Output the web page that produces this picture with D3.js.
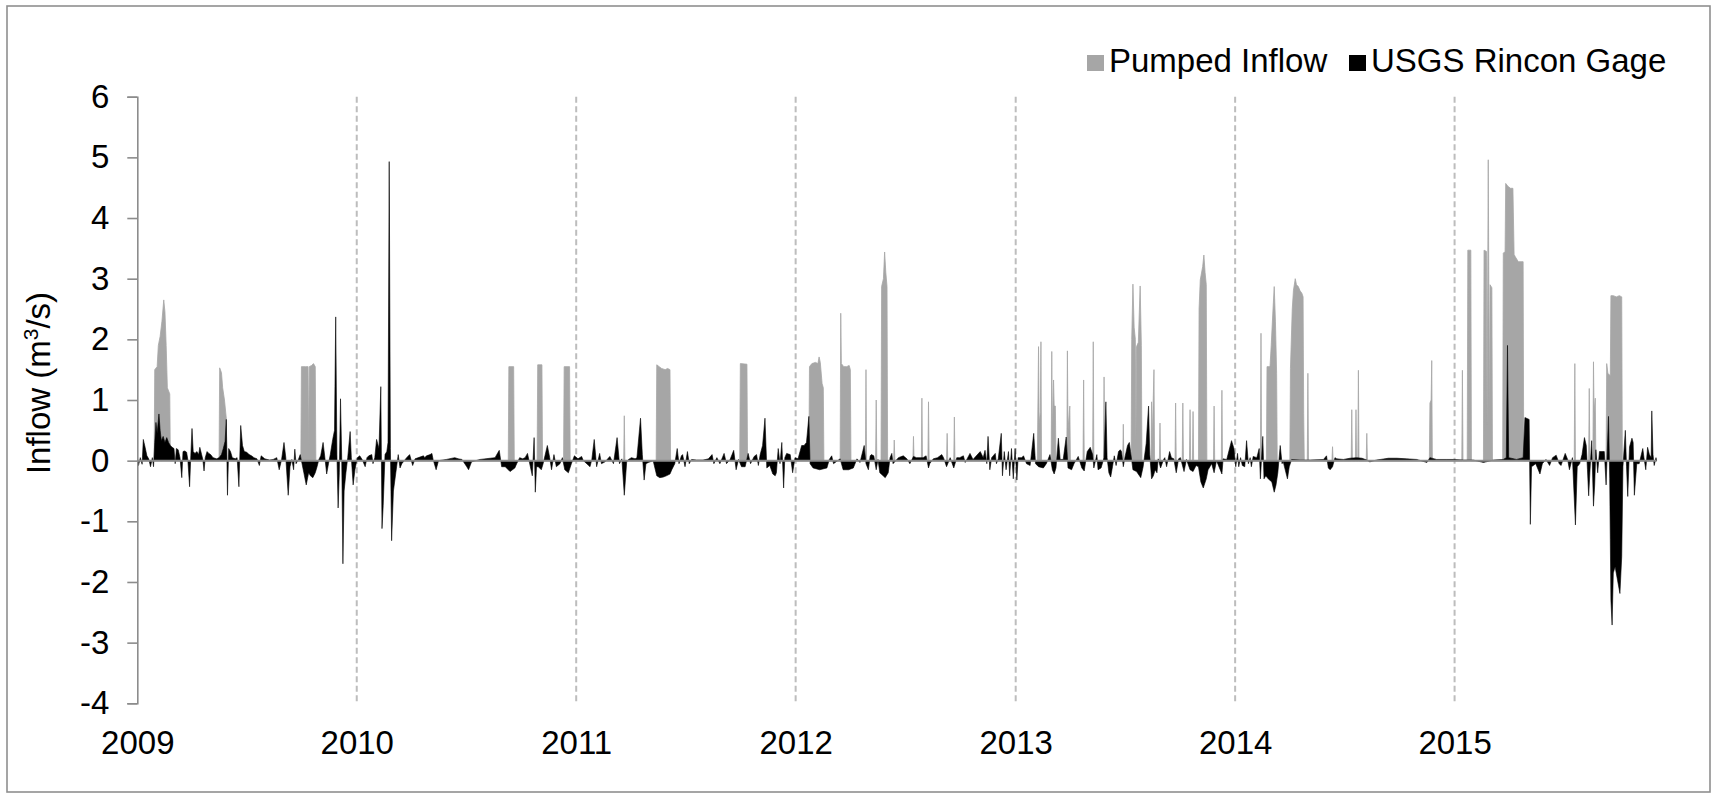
<!DOCTYPE html>
<html>
<head>
<meta charset="utf-8">
<script src="https://cdn.jsdelivr.net/npm/d3@7"></script>
<style>
  html, body { margin: 0; padding: 0; background: #fff; }
  svg { display: block; font-family: "Liberation Sans", Arial, Helvetica, sans-serif; }
</style>
</head>
<body>
<svg id="chart" width="1716" height="798"></svg>
<script>
// Daily inflow records, keyed by day number counted from 1 Jan 2009: [day, m3/s]
const START_DATE = Date.UTC(2009, 0, 1);

// USGS Rincon gage (can be negative)
const gageFlow = [
  [0,0],[2,-0.08],[5,0.05],[8,-0.06],[10,0.35],[13,0.22],[16,0.08],[19,0.03],[22,-0.1],[25,0.05],[27,-0.1],
  [29,0.3],[31,0.63],[33,0.45],[36,0.77],[38,0.5],[40,0.33],[43,0.4],[46,0.3],[49,0.38],[52,0.3],[55,0.25],
  [58,0.22],[61,0.2],[63,-0.05],[65,0.2],[68,0.18],[71,0.05],[74,-0.28],[76,0.15],[79,0.16],[82,0.14],[84,0.02],
  [87,-0.43],[89,0.08],[91,0.53],[93,0.15],[96,0.12],[99,0.15],[102,0.1],[104,0.22],[107,0.1],[109,0.02],
  [111,-0.17],[113,0.05],[116,0.15],[119,0.12],[122,0.1],[126,0.05],[132,0.03],[136,0.05],[140,0.1],[143,0.2],
  [146,0.32],[148,0.68],[150,-0.57],[152,0.2],[155,0.15],[158,0.05],[163,0.03],[166,0.05],[169,-0.43],[172,0.58],
  [175,0.25],[178,0.15],[182,0.14],[186,0.1],[190,0.08],[194,0.05],[199,0.03],[203,-0.08],[206,0.08],[212,0.03],
  [220,0.01],[226,0.02],[232,0.05],[236,-0.15],[240,0.02],[244,0.3],[247,0.05],[251,-0.57],[254,-0.1],[257,0.02],
  [260,-0.15],[262,0.19],[264,-0.05],[268,0.02],[271,0.1],[274,-0.05],[277,-0.2],[281,-0.4],[285,-0.2],[288,-0.25],
  [292,-0.28],[296,-0.2],[299,-0.1],[302,0.02],[305,0.08],[309,0.3],[312,0.05],[315,-0.22],[318,-0.05],[321,0.1],
  [325,0.35],[328,0.5],[330,2.37],[332,0.1],[334,-0.78],[336,-0.2],[338,1.02],[340,0.05],[342,-1.7],[344,-0.5],
  [347,-0.2],[350,0.05],[354,0.48],[356,0.05],[359,-0.4],[362,-0.15],[366,0.05],[370,0.08],[374,0.02],[379,-0.1],
  [382,0.05],[385,0.08],[390,0.1],[392,-0.05],[395,0.05],[398,0.35],[402,0.2],[405,1.22],[407,-1.12],[409,-0.74],
  [412,0.1],[415,0.15],[417,0.3],[419,4.93],[421,0.2],[423,-1.32],[426,-0.5],[430,-0.2],[434,0.1],[437,-0.12],
  [440,-0.05],[448,0.05],[453,0.1],[458,-0.08],[462,0.03],[476,0.08],[478,0.05],[481,0.08],[487,0.1],[490,0.12],
  [492,0.02],[497,-0.15],[501,0],[514,0.02],[528,0.05],[534,0.03],[540,0.02],[548,-0.1],[551,-0.15],[556,-0.02],
  [570,0.02],[587,0.04],[595,0.05],[602,0.17],[606,-0.1],[612,-0.1],[620,-0.18],[628,-0.12],[631,-0.05],[636,0.05],
  [641,0.03],[645,0.05],[649,0.12],[652,-0.02],[657,-0.25],[660,0.38],[662,-0.52],[664,-0.1],[667,-0.1],[672,-0.15],
  [675,-0.05],[682,0.25],[686,0.05],[689,-0.15],[693,0.1],[697,-0.1],[703,-0.05],[707,0.05],[711,-0.15],[717,-0.2],
  [722,-0.05],[727,0.08],[733,0.03],[739,0.07],[742,0],[753,-0.1],[756,0.02],[760,0.35],[764,-0.1],[769,0.12],
  [772,-0.05],[778,-0.02],[786,0.07],[792,-0.05],[798,0.38],[802,-0.05],[806,0.03],[810,-0.57],[814,-0.02],[817,0.02],
  [822,0.05],[828,0.03],[831,0.05],[837,0.7],[840,0.1],[843,-0.32],[846,-0.05],[850,-0.03],[858,0],[864,-0.25],
  [869,-0.28],[875,-0.27],[880,-0.25],[886,-0.22],[889,-0.15],[894,-0.05],[898,0.2],[901,-0.05],[905,0.08],[907,0.1],
  [911,-0.1],[915,0.15],[918,-0.05],[922,0.02],[930,0.01],[941,0.01],[950,0.03],[956,0.1],[959,-0.05],[964,0.05],
  [969,-0.05],[976,0.12],[980,-0.05],[986,0.02],[992,0.17],[996,-0.15],[1000,0.02],[1005,-0.1],[1011,-0.1],[1016,0.12],
  [1020,-0.05],[1026,0.07],[1030,0.1],[1033,-0.08],[1036,0.1],[1040,0.25],[1044,0.7],[1047,-0.12],[1052,-0.08],
  [1057,-0.22],[1061,-0.25],[1063,-0.2],[1066,0.2],[1069,-0.05],[1072,0.3],[1075,-0.45],[1077,0.05],[1080,0.12],
  [1086,0.1],[1090,-0.2],[1094,0.05],[1099,0.03],[1105,0.25],[1109,0.25],[1113,0.3],[1117,0.73],[1119,-0.05],
  [1124,-0.12],[1135,-0.15],[1147,-0.12],[1151,0.02],[1155,0.08],[1158,-0.05],[1169,0.03],[1174,-0.15],[1183,-0.15],
  [1191,-0.12],[1197,0.03],[1202,-0.03],[1209,0.25],[1212,-0.05],[1216,-0.15],[1219,0.08],[1221,0.1],[1225,0.08],
  [1229,-0.15],[1232,0.02],[1235,-0.2],[1244,-0.28],[1249,-0.2],[1252,0.05],[1255,0.12],[1257,-0.05],[1266,0.05],
  [1274,0.08],[1280,0.03],[1285,-0.05],[1291,0.07],[1296,0.05],[1302,0.05],[1307,0.05],[1312,0.08],[1316,-0.12],
  [1318,-0.05],[1324,0.03],[1331,0.05],[1338,0.1],[1341,0.05],[1346,-0.1],[1352,0.05],[1358,-0.12],[1363,0.05],
  [1368,0.05],[1374,0.08],[1377,-0.03],[1385,0.12],[1390,0.02],[1402,0.15],[1407,0.05],[1410,0.17],[1413,-0.05],
  [1415,0.4],[1418,-0.15],[1421,0.05],[1427,0.12],[1429,-0.05],[1432,0.03],[1437,0.45],[1439,-0.25],[1442,0.15],
  [1445,-0.15],[1449,0.15],[1451,-0.25],[1454,0.2],[1457,-0.3],[1460,0.2],[1463,-0.32],[1465,0.05],[1471,0.05],
  [1474,0.08],[1479,-0.05],[1485,-0.08],[1491,0.45],[1494,-0.05],[1499,-0.1],[1507,-0.12],[1512,-0.05],[1518,0.1],
  [1522,-0.15],[1525,-0.22],[1528,-0.12],[1532,0.37],[1535,0.02],[1540,0.02],[1545,0.39],[1548,-0.12],[1554,-0.15],
  [1558,-0.05],[1565,0.07],[1571,-0.12],[1575,-0.17],[1580,0.15],[1585,0.22],[1589,0.1],[1591,-0.12],[1596,0.1],
  [1598,-0.15],[1603,-0.12],[1608,0.05],[1611,0.97],[1613,0.05],[1616,-0.2],[1619,-0.27],[1622,-0.1],[1625,0.08],
  [1628,-0.08],[1632,0.15],[1635,0.18],[1637,0.15],[1640,-0.1],[1643,0.07],[1647,0.25],[1650,0.3],[1652,0.15],
  [1656,-0.15],[1662,-0.18],[1669,-0.28],[1673,-0.1],[1678,0.28],[1682,0.9],[1684,0.1],[1687,-0.3],[1690,-0.25],
  [1693,-0.15],[1696,-0.2],[1698,0.03],[1702,-0.12],[1707,0.02],[1709,0.05],[1712,-0.1],[1717,0.15],[1720,0.05],
  [1724,0.03],[1728,-0.2],[1732,0.03],[1735,0.05],[1741,-0.18],[1745,0.02],[1751,-0.15],[1756,-0.18],[1761,-0.08],
  [1765,-0.1],[1769,-0.35],[1773,-0.45],[1778,-0.3],[1781,-0.15],[1787,-0.05],[1791,-0.2],[1795,0],[1804,-0.22],
  [1806,0.03],[1812,0.02],[1820,0.33],[1824,0.2],[1827,-0.1],[1830,0.12],[1832,-0.1],[1835,0.05],[1838,-0.08],
  [1842,-0.1],[1845,0.33],[1848,-0.05],[1851,0.05],[1853,-0.1],[1856,0.07],[1862,0.05],[1866,0.2],[1868,-0.3],
  [1872,0.4],[1874,-0.3],[1877,-0.25],[1881,-0.3],[1887,-0.35],[1891,-0.52],[1894,-0.4],[1897,-0.2],[1901,0.25],
  [1904,-0.05],[1906,-0.02],[1913,-0.3],[1916,-0.1],[1920,0.02],[1934,0.01],[1951,0.01],[1973,0.02],[1978,0.08],
  [1981,-0.12],[1984,-0.15],[1988,-0.1],[1992,0.05],[1995,0.03],[2006,0.02],[2017,0.04],[2028,0.05],[2037,0.04],
  [2045,0.01],[2050,-0.02],[2061,0.01],[2081,0.04],[2095,0.04],[2111,0.03],[2128,0.02],[2145,-0.03],[2150,0.05],
  [2161,0.02],[2178,0.02],[2189,0.02],[2206,0.01],[2222,0.01],[2239,-0.03],[2256,0.01],[2272,0.02],[2277,0.05],
  [2279,1.9],[2281,0.05],[2294,0.02],[2305,0.05],[2308,0.71],[2315,0.68],[2317,-1.05],[2319,-0.1],[2326,-0.05],
  [2333,-0.22],[2337,-0.05],[2343,0.02],[2349,-0.08],[2354,0.05],[2360,0.09],[2365,-0.05],[2368,-0.08],[2375,0.12],
  [2379,0.02],[2382,-0.15],[2387,0.05],[2392,-1.06],[2395,-0.1],[2399,-0.05],[2403,0.1],[2407,0.38],[2410,0.25],
  [2412,-0.15],[2414,-0.58],[2416,-0.2],[2419,0.33],[2422,-0.75],[2424,-0.4],[2426,0.18],[2429,-0.2],[2432,0.15],
  [2436,0.15],[2440,0.15],[2443,-0.4],[2447,0.73],[2449,-0.3],[2450,-1.3],[2451,-2.3],[2453,-2.71],[2455,-1.85],
  [2458,-1.75],[2462,-1.97],[2466,-2.19],[2469,-1.58],[2471,-0.1],[2475,0.5],[2477,-0.1],[2479,-0.59],[2482,0.23],
  [2486,0.37],[2488,0.3],[2490,-0.57],[2494,-0.05],[2498,-0.05],[2504,0.2],[2506,0.05],[2509,-0.15],[2512,0.22],
  [2515,0.1],[2518,0.05],[2519,0.82],[2521,0.1],[2523,-0.08],[2526,0.05],[2527,0]
];

// Pumped inflow (pumping periods)
const pumpedFlow = [
  [0,0],[28,0],[29,1.5],[33,1.55],[35,1.9],[38,2.05],[41,2.3],[44,2.65],[46,2.45],[48,1.9],[50,1.2],[54,1.1],[55,0],
  [136,0],[137,1.53],[140,1.45],[142,1.2],[145,1.0],[148,0.7],[149,0],
  [272,0],[273,1.55],[280,1.55],[284,1.55],[285,0.2],[286,1.55],[290,1.57],[293,1.6],[296,1.55],[297,0],
  [617,0],[618,1.55],[626,1.55],[627,0],
  [665,0],[666,1.58],[673,1.58],[674,0],
  [709,0],[710,1.55],[719,1.55],[720,0],
  [809,0],[810,0.74],[811,0],
  [863,0],[864,1.58],[868,1.55],[872,1.52],[878,1.5],[882,1.52],[886,1.5],[887,0],
  [1002,0],[1003,1.6],[1014,1.59],[1015,0],
  [1117,0],[1118,1.55],[1122,1.6],[1128,1.62],[1132,1.6],[1134,1.71],[1136,1.62],[1139,1.27],[1141,1.2],[1142,0],
  [1169,0],[1170,2.43],[1171,1.6],[1175,1.55],[1180,1.55],[1184,1.57],[1186,1.5],[1187,0],
  [1211,0],[1212,1.5],[1213,0],
  [1228,0],[1229,1.0],[1230,0],
  [1237,0],[1238,2.87],[1241,3.0],[1243,3.44],[1245,3.1],[1247,2.87],[1248,0],
  [1258,0],[1259,0.34],[1260,0],
  [1290,0],[1291,0.4],[1292,0],
  [1304,0],[1305,1.03],[1306,0],
  [1315,0],[1316,0.97],[1317,0],
  [1346,0],[1347,0.45],[1348,0],
  [1358,0],[1359,0.72],[1360,0],
  [1497,0],[1499,1.88],[1500,0.6],[1502,0.8],[1503,1.96],[1504,0],
  [1520,0],[1521,1.8],[1522,0.5],[1524,1.33],[1525,0.9],[1527,0.9],[1528,0],
  [1546,0],[1547,1.81],[1548,0.5],[1551,0.9],[1552,0],
  [1573,0],[1574,1.33],[1575,0],
  [1589,0],[1590,1.96],[1591,0],
  [1607,0],[1608,1.38],[1609,0],
  [1639,0],[1640,0.6],[1641,0],
  [1653,0],[1654,2.0],[1656,2.91],[1658,2.2],[1660,2.0],[1661,0.3],[1662,1.88],[1665,1.95],[1668,2.88],[1670,1.9],[1671,0],
  [1686,0],[1687,0.97],[1688,0.3],[1691,1.5],[1692,0],
  [1700,0],[1701,0.62],[1702,0],
  [1726,0],[1727,0.95],[1728,0],
  [1738,0],[1739,0.95],[1740,0],
  [1750,0],[1751,0.84],[1752,0],
  [1755,0],[1756,0.81],[1757,0],
  [1765,0],[1766,2.5],[1768,2.98],[1772,3.2],[1774,3.39],[1776,3.1],[1778,2.9],[1779,0],
  [1790,0],[1791,0.9],[1792,0],
  [1803,0],[1804,1.16],[1805,0],
  [1868,0],[1869,2.1],[1870,0],
  [1878,0],[1879,1.55],[1884,1.55],[1886,1.9],[1889,2.5],[1891,2.87],[1893,2.3],[1895,1.44],[1896,0],
  [1917,0],[1918,1.52],[1921,2.5],[1923,2.81],[1926,3.0],[1928,2.9],[1931,2.87],[1934,2.8],[1937,2.76],[1939,2.7],[1940,0.78],[1941,0],
  [1946,0],[1947,1.44],[1948,0],
  [1987,0],[1988,0.23],[1989,0],
  [2019,0],[2020,0.84],[2021,0],
  [2026,0],[2027,0.84],[2028,0],
  [2030,0],[2031,1.49],[2032,0],
  [2044,0],[2045,0.45],[2046,0],
  [2149,0],[2150,0.95],[2152,1.0],[2153,1.65],[2154,0],
  [2203,0],[2204,1.49],[2205,0],
  [2212,0],[2213,3.47],[2218,3.47],[2219,0],
  [2239,0],[2240,3.47],[2244,3.45],[2245,0.6],[2247,4.96],[2249,0.6],[2250,2.9],[2253,2.85],[2254,0],
  [2271,0],[2272,3.42],[2275,3.45],[2276,4.57],[2280,4.52],[2284,4.49],[2288,4.49],[2290,3.4],[2292,3.36],[2297,3.28],[2305,3.28],[2306,0],
  [2390,0],[2391,1.6],[2392,0],
  [2414,0],[2415,1.19],[2416,0],
  [2421,0],[2422,1.63],[2423,0.8],[2425,1.03],[2426,0],
  [2443,0],[2444,1.6],[2446,1.44],[2450,1.4],[2451,2.72],[2455,2.72],[2460,2.7],[2465,2.72],[2469,2.7],[2470,0],
  [2527,0]
];

const yearTicks = [2009, 2010, 2011, 2012, 2013, 2014, 2015];
const yTicks = [-4, -3, -2, -1, 0, 1, 2, 3, 4, 5, 6];
const seriesNames = ["Pumped Inflow", "USGS Rincon Gage"];
const seriesColors = ["#a6a6a6", "#000000"];

const toDate = d => new Date(START_DATE + d * 864e5);
const yearDate = yr => new Date(Date.UTC(yr, 0, 1));

const svg = d3.select("#chart");
const FONT = 33;
const AXIS_GREY = "#8c8c8c";

// outer frame
svg.append("rect")
  .attr("x", 7).attr("y", 6).attr("width", 1703).attr("height", 786)
  .attr("fill", "#fff").attr("stroke", "#8f8f8f").attr("stroke-width", 1.6);

const x = d3.scaleUtc()
  .domain(d3.extent(gageFlow, d => toDate(d[0])))
  .range([137.3, 1656.6]);

const y = d3.scaleLinear()
  .domain([d3.min(yTicks), d3.max(yTicks)])
  .range([703.3, 96.7]);

// year separators
svg.append("g")
  .selectAll("line")
  .data(yearTicks.slice(1))
  .join("line")
  .attr("x1", d => x(yearDate(d))).attr("x2", d => x(yearDate(d)))
  .attr("y1", y(6)).attr("y2", y(-4))
  .attr("stroke", "#bdbdbd").attr("stroke-width", 2)
  .attr("stroke-dasharray", "6,3.5");

const area = d3.area()
  .x(d => x(toDate(d[0])))
  .y0(y(0))
  .y1(d => y(d[1]));

svg.append("path")
  .datum(pumpedFlow)
  .attr("d", area)
  .attr("fill", seriesColors[0])
  .attr("stroke", seriesColors[0])
  .attr("stroke-width", 0.8)
  .attr("stroke-linejoin", "miter");

svg.append("path")
  .datum(gageFlow)
  .attr("d", area)
  .attr("fill", seriesColors[1])
  .attr("stroke", seriesColors[1])
  .attr("stroke-width", 0.6);

// zero line
svg.append("line")
  .attr("x1", x.range()[0]).attr("x2", x.range()[1])
  .attr("y1", y(0)).attr("y2", y(0))
  .attr("stroke", AXIS_GREY).attr("stroke-width", 2);

// y axis
const yAxis = svg.append("g")
  .attr("transform", `translate(${x.range()[0]},0)`)
  .call(d3.axisLeft(y).tickValues(yTicks).tickSize(10).tickPadding(18).tickFormat(d => String(d)));
yAxis.select(".domain").attr("stroke", AXIS_GREY).attr("stroke-width", 1.6);
yAxis.selectAll(".tick line").attr("stroke", AXIS_GREY).attr("stroke-width", 1.6);
yAxis.selectAll(".tick text")
  .attr("font-size", FONT).attr("fill", "#000")
  .attr("font-family", "'Liberation Sans', Arial, sans-serif");

// x axis labels (years)
const xAxis = svg.append("g")
  .attr("transform", `translate(0,${y(-4)})`)
  .call(d3.axisBottom(x).tickValues(yearTicks.map(yearDate)).tickSize(0).tickPadding(27)
    .tickFormat(d3.utcFormat("%Y")));
xAxis.select(".domain").remove();
xAxis.selectAll(".tick text")
  .attr("font-size", FONT).attr("fill", "#000")
  .attr("font-family", "'Liberation Sans', Arial, sans-serif");

// y axis title
const title = svg.append("text")
  .attr("transform", "translate(50,383) rotate(-90)")
  .attr("text-anchor", "middle")
  .attr("font-size", FONT).attr("fill", "#000");
title.append("tspan").text("Inflow (m");
title.append("tspan").attr("font-size", 21).attr("dy", -12).text("3");
title.append("tspan").attr("dy", 12).text("/s)");

// legend
const legendItems = [
  { name: seriesNames[0], color: seriesColors[0], x: 1087 },
  { name: seriesNames[1], color: seriesColors[1], x: 1349 }
];
const lg = svg.append("g").selectAll("g").data(legendItems).join("g")
  .attr("transform", d => `translate(${d.x},0)`);
lg.append("rect").attr("x", 0).attr("y", 55).attr("width", 17).attr("height", 16)
  .attr("fill", d => d.color);
lg.append("text").attr("x", 22).attr("y", 71.5)
  .attr("font-size", FONT).attr("fill", "#000")
  .text(d => d.name);
</script>
</body>
</html>
